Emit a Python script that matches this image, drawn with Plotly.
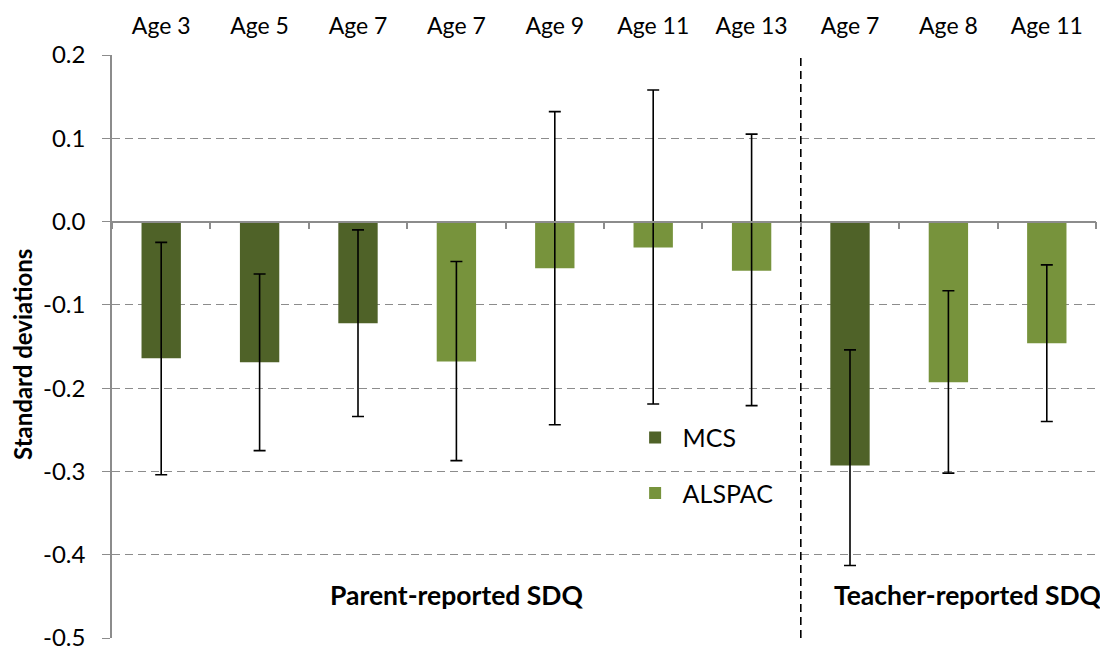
import plotly.graph_objects as go

# Categories along the top of the chart
ages = ["Age 3", "Age 5", "Age 7", "Age 7", "Age 9", "Age 11", "Age 13", "Age 7", "Age 8", "Age 11"]
cohort = ["MCS", "MCS", "MCS", "ALSPAC", "ALSPAC", "ALSPAC", "ALSPAC", "MCS", "ALSPAC", "ALSPAC"]

# Estimates and confidence bounds (standard deviations)
estimate = [-0.164, -0.169, -0.122, -0.168, -0.056, -0.031, -0.059, -0.293, -0.193, -0.146]
ci_low = [-0.304, -0.275, -0.234, -0.287, -0.244, -0.219, -0.221, -0.413, -0.302, -0.240]
ci_high = [-0.025, -0.063, -0.010, -0.048, 0.132, 0.158, 0.105, -0.154, -0.083, -0.052]

# y axis ticks (plain hyphen for negatives, like the original)
y_ticks = [-0.5, -0.4, -0.3, -0.2, -0.1, 0.0, 0.1, 0.2]
y_ticktext = ["-0.5", "-0.4", "-0.3", "-0.2", "-0.1", "0.0", "0.1", "0.2"]

colors = {"MCS": "#4F6228", "ALSPAC": "#77933C"}
FONT = "Lato, Calibri, sans-serif"

# plot area in figure pixels (page body adds an 8px offset)
L, T, W, H = 104, 47, 984, 583

fig = go.Figure()

for name in ["MCS", "ALSPAC"]:
    idx = [i for i, c in enumerate(cohort) if c == name]
    fig.add_trace(go.Bar(
        x=idx,
        y=[estimate[i] for i in idx],
        name=name,
        legendgroup=name,
        marker=dict(color=colors[name], line=dict(width=0)),
        width=0.4,
        error_y=dict(
            type='data',
            symmetric=False,
            array=[ci_high[i] - estimate[i] for i in idx],
            arrayminus=[estimate[i] - ci_low[i] for i in idx],
            color='black',
            thickness=1.6,
            width=6,
        ),
    ))

# invisible trace so the tick axis at y=0 gets drawn
fig.add_trace(go.Scatter(x=[-0.5, 9.5], y=[0, 0], xaxis='x2', mode='lines',
                         line=dict(width=0), showlegend=False, hoverinfo='skip'))

# separator between parent and teacher reports
fig.add_shape(type='line', x0=6.5, x1=6.5, y0=-0.5, y1=0.2, xref='x', yref='y',
              line=dict(color='black', width=1.6, dash='8px,5px'))

fig.add_annotation(x=3, y=-0.448, xref='x', yref='y', text="<b>Parent-reported SDQ</b>",
                   showarrow=False, font=dict(size=26.5, color='black', family=FONT))
fig.add_annotation(x=8.2, y=-0.448, xref='x', yref='y', text="<b>Teacher-reported SDQ</b>",
                   showarrow=False, font=dict(size=26.5, color='black', family=FONT))

# y axis title
fig.add_annotation(x=(14 - L) / W, y=1 - (347 - T) / H, xref='paper', yref='paper',
                   xanchor='center', yanchor='middle', borderpad=0,
                   text="<b>Standard deviations</b>", textangle=-90, showarrow=False,
                   font=dict(size=24, color='black', family=FONT))

fig.update_layout(
    width=1108,
    height=646,
    margin=dict(l=L, r=1108 - L - W, t=T, b=646 - T - H, autoexpand=False),
    plot_bgcolor='white',
    paper_bgcolor='white',
    font=dict(family=FONT, size=20, color='black'),
    barmode='overlay',
    showlegend=True,
    legend=dict(
        x=0.524, y=0.383, xanchor='left', yanchor='top',
        font=dict(size=25, family=FONT),
        traceorder='grouped',
        tracegroupgap=20,
        itemwidth=45,
        bgcolor='rgba(0,0,0,0)',
    ),
    xaxis=dict(
        side='top',
        range=[-0.5, 9.5],
        tickmode='array',
        tickvals=list(range(len(ages))),
        ticktext=ages,
        ticks='',
        showline=False,
        showgrid=False,
        zeroline=False,
        automargin=False,
        tickfont=dict(size=23, family=FONT),
        ticklabelstandoff=15,
    ),
    xaxis2=dict(
        overlaying='x',
        anchor='free',
        position=5 / 7,
        side='bottom',
        range=[-0.5, 9.5],
        tickmode='array',
        tickvals=[i + 0.5 for i in range(-1, 10)],
        showticklabels=False,
        ticks='outside',
        ticklen=7,
        tickwidth=1.5,
        tickcolor='#8c8c8c',
        showline=True,
        linecolor='#8c8c8c',
        linewidth=1.5,
        showgrid=False,
        zeroline=False,
        automargin=False,
    ),
    yaxis=dict(
        range=[-0.5, 0.2],
        tickmode='array',
        tickvals=y_ticks,
        ticktext=y_ticktext,
        showgrid=True,
        gridcolor='#8c8c8c',
        gridwidth=1.3,
        griddash='8px,5px',
        zeroline=False,
        showline=True,
        linecolor='#8c8c8c',
        linewidth=1.5,
        ticks='outside',
        ticklen=8,
        tickcolor='#8c8c8c',
        tickfont=dict(size=24, family=FONT),
        ticklabelstandoff=12,
        automargin=False,
    ),
)

fig.write_html("out.html")
